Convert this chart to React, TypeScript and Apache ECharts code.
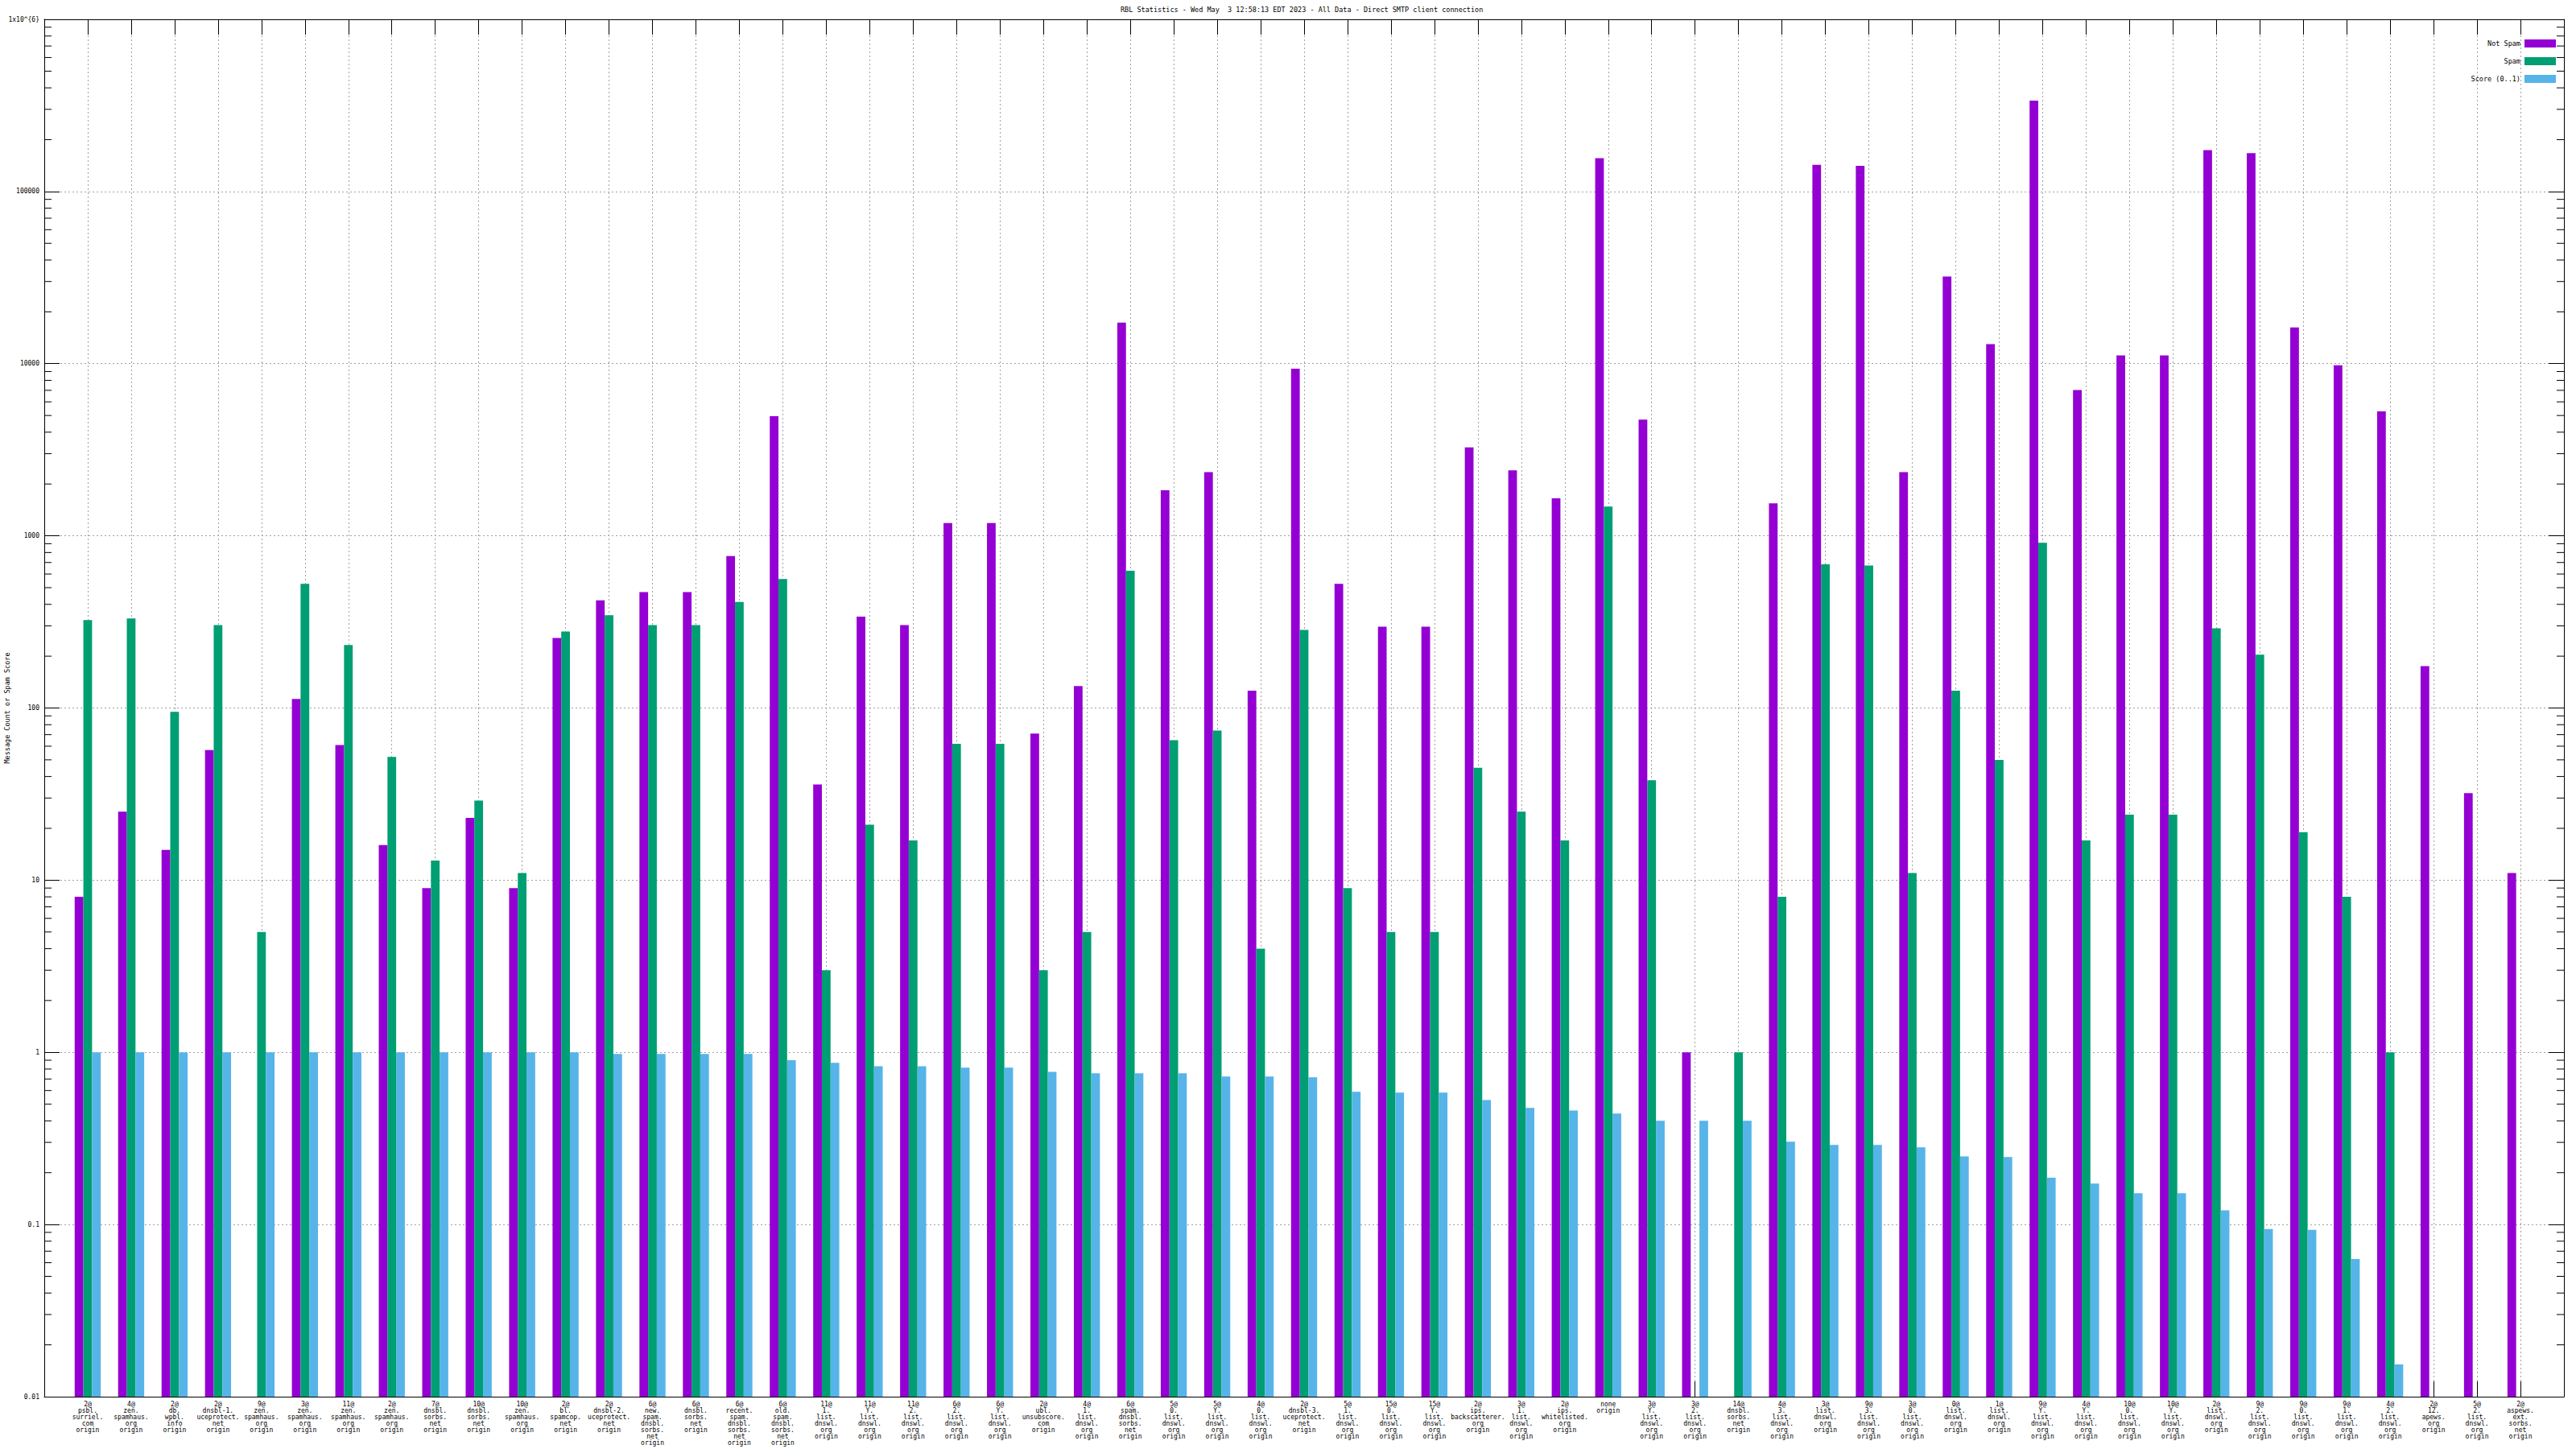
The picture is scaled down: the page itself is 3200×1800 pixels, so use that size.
import React, { useEffect, useRef } from 'react';
import * as echarts from 'echarts';

const categories: string[] = [
  '2@\npsbl.\nsurriel.\ncom\norigin',
  '4@\nzen.\nspamhaus.\norg\norigin',
  '2@\ndb.\nwpbl.\ninfo\norigin',
  '2@\ndnsbl-1.\nuceprotect.\nnet\norigin',
  '9@\nzen.\nspamhaus.\norg\norigin',
  '3@\nzen.\nspamhaus.\norg\norigin',
  '11@\nzen.\nspamhaus.\norg\norigin',
  '2@\nzen.\nspamhaus.\norg\norigin',
  '7@\ndnsbl.\nsorbs.\nnet\norigin',
  '10@\ndnsbl.\nsorbs.\nnet\norigin',
  '10@\nzen.\nspamhaus.\norg\norigin',
  '2@\nbl.\nspamcop.\nnet\norigin',
  '2@\ndnsbl-2.\nuceprotect.\nnet\norigin',
  '6@\nnew.\nspam.\ndnsbl.\nsorbs.\nnet\norigin',
  '6@\ndnsbl.\nsorbs.\nnet\norigin',
  '6@\nrecent.\nspam.\ndnsbl.\nsorbs.\nnet\norigin',
  '6@\nold.\nspam.\ndnsbl.\nsorbs.\nnet\norigin',
  '11@\n1.\nlist.\ndnswl.\norg\norigin',
  '11@\nY.\nlist.\ndnswl.\norg\norigin',
  '11@\n2.\nlist.\ndnswl.\norg\norigin',
  '6@\n2.\nlist.\ndnswl.\norg\norigin',
  '6@\nY.\nlist.\ndnswl.\norg\norigin',
  '2@\nubl.\nunsubscore.\ncom\norigin',
  '4@\n1.\nlist.\ndnswl.\norg\norigin',
  '6@\nspam.\ndnsbl.\nsorbs.\nnet\norigin',
  '5@\n0.\nlist.\ndnswl.\norg\norigin',
  '5@\nY.\nlist.\ndnswl.\norg\norigin',
  '4@\n0.\nlist.\ndnswl.\norg\norigin',
  '2@\ndnsbl-3.\nuceprotect.\nnet\norigin',
  '5@\n1.\nlist.\ndnswl.\norg\norigin',
  '15@\n0.\nlist.\ndnswl.\norg\norigin',
  '15@\nY.\nlist.\ndnswl.\norg\norigin',
  '2@\nips.\nbackscatterer.\norg\norigin',
  '3@\n1.\nlist.\ndnswl.\norg\norigin',
  '2@\nips.\nwhitelisted.\norg\norigin',
  'none\norigin',
  '3@\nY.\nlist.\ndnswl.\norg\norigin',
  '3@\n2.\nlist.\ndnswl.\norg\norigin',
  '14@\ndnsbl.\nsorbs.\nnet\norigin',
  '4@\n3.\nlist.\ndnswl.\norg\norigin',
  '3@\nlist.\ndnswl.\norg\norigin',
  '9@\n3.\nlist.\ndnswl.\norg\norigin',
  '3@\n0.\nlist.\ndnswl.\norg\norigin',
  '0@\nlist.\ndnswl.\norg\norigin',
  '1@\nlist.\ndnswl.\norg\norigin',
  '9@\nY.\nlist.\ndnswl.\norg\norigin',
  '4@\nY.\nlist.\ndnswl.\norg\norigin',
  '10@\n0.\nlist.\ndnswl.\norg\norigin',
  '10@\nY.\nlist.\ndnswl.\norg\norigin',
  '2@\nlist.\ndnswl.\norg\norigin',
  '9@\n2.\nlist.\ndnswl.\norg\norigin',
  '9@\n0.\nlist.\ndnswl.\norg\norigin',
  '9@\n1.\nlist.\ndnswl.\norg\norigin',
  '4@\n2.\nlist.\ndnswl.\norg\norigin',
  '2@\n12.\napews.\norg\norigin',
  '5@\n2.\nlist.\ndnswl.\norg\norigin',
  '2@\naspews.\next.\nsorbs.\nnet\norigin',
];

const notSpam: (number | null)[] = [
  8, 25, 15, 57, null, 113, 61, 16, 9, 23,
  9, 255, 422, 471, 471, 764, 4950, 36, 339, 303,
  1186, 1186, 71, 134, 17330, 1840, 2344, 126, 9355, 526,
  297, 297, 3260, 2400, 1650, 156000, 4732, 1, null, 1543,
  143000, 141000, 2344, 32060, 13000, 337000, 7030, 11170, 11170, 174000,
  167000, 16220, 9800, 5290, 175, 32, 11,
];

const spam: (number | null)[] = [
  324, 331, 95, 303, 5, 526, 232, 52, 13, 29,
  11, 278, 346, 303, 303, 413, 562, 3, 21, 17,
  62, 62, 3, 5, 627, 65, 74, 4, 284, 9,
  5, 5, 45, 25, 17, 1479, 38, null, 1, 8,
  684, 672, 11, 126, 50, 911, 17, 24, 24, 290,
  204, 19, 8, 1, null, null, null,
];

const score: (number | null)[] = [
  1, 1, 1, 1, 1, 1, 1, 1, 1, 1,
  1, 1, 0.98, 0.98, 0.98, 0.98, 0.9, 0.87, 0.83, 0.83,
  0.815, 0.815, 0.77, 0.756, 0.756, 0.756, 0.724, 0.724, 0.716, 0.59,
  0.583, 0.583, 0.529, 0.476, 0.46, 0.441, 0.401, 0.401, 0.401, 0.303,
  0.29, 0.29, 0.281, 0.249, 0.247, 0.187, 0.173, 0.152, 0.152, 0.121,
  0.094, 0.093, 0.063, 0.0154, null, null, null,
];

const seriesNames = ['Not Spam', 'Spam', 'Score (0..1)'];
const seriesColors = ['#9400d3', '#009e73', '#56b4e9'];
const yTickLabels = ['0.01', '0.1', '1', '10', '100', '1000', '10000', '100000', '1x10^{6}'];
const Y_MIN = 0.01;
const Y_MAX = 1000000;
const TITLE = 'RBL Statistics - Wed May  3 12:58:13 EDT 2023 - All Data - Direct SMTP client connection';
const Y_NAME = 'Message Count or Spam Score';

const FONT = '"DejaVu Sans Mono", "Liberation Mono", monospace';

export default function App() {
  const ref = useRef<HTMLDivElement>(null);
  useEffect(() => {
    const chart = echarts.init(ref.current!, null, { renderer: 'svg' });

    // minor ticks (log positions 2..9 within each decade)
    const minorTicks: number[][] = [];
    for (let e = -2; e < 6; e++) {
      for (let m = 2; m <= 9; m++) minorTicks.push([0, m * Math.pow(10, e)]);
    }

    const BAR_FRACTION = 0.2;
    const makeBars = (name: string, values: (number | null)[], color: string, offset: number) => ({
      type: 'custom',
      name,
      xAxisIndex: 0,
      yAxisIndex: 0,
      itemStyle: { color },
      encode: { x: 0, y: 1 },
      data: values
        .map((v, i) => [i, v])
        .filter((d) => d[1] != null && (d[1] as number) > 0),
      renderItem: (params: any, api: any) => {
        const xi = api.value(0) as number;
        const v = api.value(1) as number;
        const top = api.coord([xi, v]);
        const base = api.coord([xi, Y_MIN]);
        const unit = api.coord([xi + 1, v])[0] - top[0];
        const w = unit * BAR_FRACTION;
        const cx = top[0] + offset * w;
        return {
          type: 'rect',
          shape: { x: cx - w / 2, y: top[1], width: w, height: base[1] - top[1] },
          style: { fill: color },
        };
      },
    });

    const gridLine = { show: true, lineStyle: { color: '#a0a0a0', width: 1, type: [2, 3] } };
    const blackLine = { show: true, onZero: false, lineStyle: { color: '#000', width: 1 } };
    const inTick = { show: true, inside: true, length: 19, lineStyle: { color: '#000', width: 1 } };

    const option: any = {
      animation: false,
      backgroundColor: '#ffffff',
      title: {
        text: TITLE,
        left: 1392,
        top: 7,
        padding: 0,
        textStyle: { fontSize: 8.5, fontWeight: 'normal', color: '#000', fontFamily: FONT, lineHeight: 10 },
      },
      legend: {
        data: seriesNames,
        orient: 'vertical',
        right: 25,
        top: 49,
        padding: 0,
        align: 'right',
        icon: 'rect',
        itemWidth: 39,
        itemHeight: 10,
        itemGap: 12,
        selectedMode: false,
        textStyle: { fontSize: 8.5, color: '#000', fontFamily: FONT, lineHeight: 10 },
      },
      grid: { left: 55, right: 15, top: 24, bottom: 65, containLabel: false, outerBoundsMode: 'none' },
      xAxis: [
        {
          type: 'value',
          min: -1,
          max: categories.length,
          interval: 1,
          position: 'bottom',
          axisLine: blackLine,
          axisTick: inTick,
          axisLabel: {
            show: true,
            formatter: (v: number) => categories[Math.round(v)] ?? '',
            fontSize: 8,
            lineHeight: 8,
            margin: 5,
            color: '#000',
            fontFamily: FONT,
            align: 'center',
          },
          splitLine: gridLine,
        },
        {
          type: 'value',
          min: -1,
          max: categories.length,
          interval: 1,
          position: 'top',
          axisLine: blackLine,
          axisTick: inTick,
          axisLabel: { show: false },
          splitLine: { show: false },
        },
      ],
      yAxis: [
        {
          type: 'log',
          logBase: 10,
          min: Y_MIN,
          max: Y_MAX,
          splitNumber: 8,
          position: 'left',
          name: Y_NAME,
          nameLocation: 'middle',
          nameGap: 42,
          nameRotate: 90,
          nameMoveOverlap: false,
          nameTextStyle: { fontSize: 8.5, color: '#000', fontFamily: FONT },
          axisLine: blackLine,
          axisTick: inTick,
          axisLabel: {
            formatter: (v: number) => yTickLabels[Math.round(Math.log10(v)) + 2] ?? '',
            fontSize: 8,
            margin: 6,
            color: '#000',
            fontFamily: FONT,
          },
          splitLine: gridLine,
        },
        {
          type: 'log',
          logBase: 10,
          min: Y_MIN,
          max: Y_MAX,
          splitNumber: 8,
          position: 'right',
          axisLine: blackLine,
          axisTick: inTick,
          axisLabel: { show: false },
          splitLine: { show: false },
        },
      ],
      series: [
        makeBars(seriesNames[0], notSpam, seriesColors[0], -1),
        makeBars(seriesNames[1], spam, seriesColors[1], 0),
        makeBars(seriesNames[2], score, seriesColors[2], 1),
        {
          type: 'custom',
          name: 'minor-ticks',
          silent: true,
          xAxisIndex: 0,
          yAxisIndex: 0,
          encode: { x: 0, y: 1 },
          data: minorTicks,
          renderItem: (params: any, api: any) => {
            const y = api.coord([0, api.value(1)])[1];
            const cs = params.coordSys;
            return {
              type: 'group',
              children: [
                { type: 'line', shape: { x1: cs.x, y1: y, x2: cs.x + 9, y2: y }, style: { stroke: '#000', lineWidth: 1 } },
                { type: 'line', shape: { x1: cs.x + cs.width - 9, y1: y, x2: cs.x + cs.width, y2: y }, style: { stroke: '#000', lineWidth: 1 } },
              ],
            };
          },
        },
      ],
    };

    chart.setOption(option);
    return () => chart.dispose();
  }, []);

  return (
    <div
      ref={ref}
      style={{ position: 'fixed', left: 0, top: 0, width: 3200, height: 1800, background: '#fff' }}
    />
  );
}
